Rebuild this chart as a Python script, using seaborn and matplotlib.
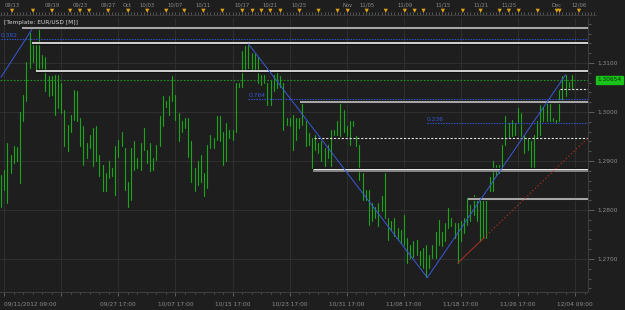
import numpy as np
import pandas as pd
import matplotlib
matplotlib.use("Agg")
import matplotlib.pyplot as plt
from matplotlib.ticker import FixedLocator, MultipleLocator
from matplotlib.transforms import blended_transform_factory
import seaborn as sns

# ---------------- data (EUR/USD, 8h bars) ----------------
highs = [
    1.2872, 1.2882, 1.2937, 1.2913, 1.2930, 1.2928, 1.3001, 1.3035, 1.3103, 1.3161,
    1.3141, 1.3137, 1.3171, 1.3117, 1.3113, 1.3073, 1.3073, 1.3076, 1.3076, 1.3059,
    1.3005, 1.2974, 1.2994, 1.3045, 1.3042, 1.2988, 1.2971, 1.2937, 1.2954, 1.2967,
    1.2971, 1.2913, 1.2892, 1.2875, 1.2899, 1.2886, 1.2930, 1.2943, 1.2960, 1.2926,
    1.2858, 1.2926, 1.2940, 1.2906, 1.2937, 1.2967, 1.2923, 1.2937, 1.2906, 1.2933,
    1.2991, 1.3032, 1.3022, 1.3032, 1.3073, 1.3035, 1.2998, 1.2981, 1.2988, 1.2988,
    1.2940, 1.2886, 1.2899, 1.2913, 1.2875, 1.2933, 1.2954, 1.2947, 1.2991,
    1.2991, 1.2960, 1.2977, 1.2964, 1.2964, 1.3059, 1.3059, 1.3124, 1.3134,
    1.3137, 1.3120, 1.3120, 1.3113, 1.3076, 1.3076, 1.3059, 1.3066, 1.3076, 1.3083,
    1.3073, 1.3059, 1.2988, 1.2988, 1.2994, 1.2988, 1.2988, 1.3018, 1.2981, 1.2957,
    1.2947, 1.2954, 1.2937, 1.2940, 1.2926, 1.2933, 1.2964, 1.2964, 1.2981,
    1.3022, 1.3005, 1.2971, 1.2981, 1.2981, 1.2950, 1.2933, 1.2875,
    1.2841, 1.2841, 1.2814, 1.2807, 1.2814, 1.2828, 1.2875, 1.2784, 1.2777,
    1.2784, 1.2763, 1.2760, 1.2790, 1.2743, 1.2729, 1.2736, 1.2739, 1.2716,
    1.2722, 1.2729, 1.2709, 1.2729, 1.2756, 1.2780, 1.2756, 1.2773, 1.2804,
    1.2784, 1.2773, 1.2773, 1.2777, 1.2784, 1.2824, 1.2811, 1.2831, 1.2824,
    1.2821, 1.2824, 1.2821, 1.2868, 1.2899, 1.2892, 1.2892, 1.2933,
    1.2991, 1.2977, 1.2984, 1.2977, 1.3008, 1.2998, 1.2954, 1.2947, 1.2940,
    1.2954, 1.2981, 1.3015, 1.3011, 1.3025, 1.3022, 1.2988, 1.2984,
    1.3045, 1.3073, 1.3076, 1.3062, 1.3076,
]
lows = [
    1.2807, 1.2841, 1.2814, 1.2875, 1.2896, 1.2899, 1.2855, 1.2981, 1.3022, 1.3090,
    1.3103, 1.3083, 1.3090, 1.3090, 1.3042, 1.3032, 1.3035, 1.2994, 1.3008, 1.2998,
    1.2930, 1.2920, 1.2960, 1.2984, 1.2981, 1.2930, 1.2892, 1.2906, 1.2926, 1.2889,
    1.2899, 1.2869, 1.2838, 1.2838, 1.2865, 1.2869, 1.2831, 1.2909, 1.2930, 1.2841,
    1.2807, 1.2821, 1.2882, 1.2886, 1.2882, 1.2923, 1.2896, 1.2879, 1.2882, 1.2903,
    1.2930, 1.2971, 1.3011, 1.2994, 1.3022, 1.2984, 1.2940, 1.2960, 1.2967, 1.2909,
    1.2858, 1.2838, 1.2852, 1.2858, 1.2828, 1.2845, 1.2926, 1.2926, 1.2943,
    1.2940, 1.2892, 1.2899, 1.2947, 1.2943, 1.2960, 1.3052, 1.3052, 1.3086,
    1.3090, 1.3086, 1.3086, 1.3059, 1.3056, 1.3059, 1.3015, 1.3015, 1.3042, 1.3049,
    1.3052, 1.2964, 1.2974, 1.2971, 1.2923, 1.2943, 1.2967, 1.2974, 1.2930, 1.2933,
    1.2886, 1.2923, 1.2916, 1.2899, 1.2889, 1.2906, 1.2889, 1.2954, 1.2954,
    1.2950, 1.2960, 1.2950, 1.2933, 1.2971, 1.2930, 1.2862, 1.2821,
    1.2821, 1.2770, 1.2777, 1.2784, 1.2767, 1.2797, 1.2784, 1.2739, 1.2760,
    1.2746, 1.2739, 1.2733, 1.2729, 1.2692, 1.2702, 1.2705, 1.2709, 1.2688,
    1.2682, 1.2664, 1.2682, 1.2702, 1.2702, 1.2729, 1.2726, 1.2736, 1.2763,
    1.2767, 1.2743, 1.2692, 1.2736, 1.2753, 1.2770, 1.2777, 1.2790, 1.2777,
    1.2736, 1.2742, 1.2742, 1.2838, 1.2838, 1.2872, 1.2875, 1.2882,
    1.2933, 1.2947, 1.2950, 1.2954, 1.2977, 1.2950, 1.2916, 1.2923, 1.2886,
    1.2882, 1.2947, 1.2954, 1.2981, 1.2981, 1.2981, 1.2981, 1.2977,
    1.2981, 1.3025, 1.3032, 1.3052, 1.3049,
]
last_price = 1.30654

price_ticks = [1.27, 1.28, 1.29, 1.30, 1.31]
price_labels = ["1.2700", "1.2800", "1.2900", "1.3000", "1.3100"]

grid_bars = [1, 19, 37, 55, 73, 91, 109, 127, 145, 163, 181]
grid_labels = ["09/11/2012 09:00", "", "09/27 17:00", "10/07 17:00", "10/15 17:00",
               "10/23 17:00", "10/31 17:00", "11/08 17:00", "11/18 17:00",
               "11/26 17:00", "12/04 09:00"]

top_labels = ["09/13", "09/19", "09/23", "09/27", "Oct", "10/03", "10/07", "10/11",
              "10/17", "10/21", "10/25", "Nov", "11/05", "11/09", "11/15", "11/21",
              "11/25", "Dec", "12/06"]
top_label_bars = [3.5, 16.1, 24.9, 33.8, 39.8, 46.1, 54.9, 63.8, 76.1, 84.9, 93.8,
                  109.3, 115.3, 127.3, 139.3, 151.2, 160.1, 175.2, 182.2]
day_marker_bars = [3.5, 10.1, 16.1, 21.8, 24.9, 27.8, 33.8, 40.1, 46.1, 52.1, 57.8,
                   63.8, 69.8, 76.1, 79.3, 82.1, 84.9, 88.1, 94.1, 100.1, 106.1,
                   109.3, 115.3, 121.3, 127.3, 130.4, 133.2, 139.3, 145.6, 151.2,
                   157.2, 160.1, 163.2, 169.2, 175.2, 176.1, 182.2]

level_prices = [1.31704, 1.31398, 1.30833, 1.30210, 1.29463, 1.28816, 1.28220, 1.30465]
level_starts = [6.6, 9.8, 11.1, 94.1, 98.8, 98.2, 147.1, 176.2]
level_kinds = ["grey", "white", "white", "grey", "dash", "double", "grey", "dash"]

fib_labels = ["0.382", "0.764", "0.236"]
fib_prices = [1.31486, 1.30259, 1.29782]
fib_starts = [0, 78, 134.2]

zz1_bars, zz1_prices = [0, 9.7], [1.3071, 1.3168]
zz2_bars, zz2_prices = [78, 134.4, 178], [1.3139, 1.2662, 1.3076]
trend_bars, trend_prices = [144, 152.2], [1.2692, 1.2743]

# ---------------- style ----------------
BG = "#1e1e1e"
GRID = "#303030"
TXT = "#8c8c8c"
GREEN = "#1aa51a"
BLUE = "#3456d6"
sns.set_theme(style="dark", rc={"axes.facecolor": BG, "figure.facecolor": BG})
plt.rcParams["font.family"] = ["DejaVu Sans"]

W, H = 625, 310
fig = plt.figure(figsize=(W / 100, H / 100), dpi=100)
fig.patch.set_facecolor(BG)


def frame(left, top, width, height):
    return [left / W, 1 - (top + height) / H, width / W, height / H]


ax = fig.add_axes(frame(0, 18, 588, 274))
axt = fig.add_axes(frame(0, 0, 596, 15))

n = len(highs)
step = 571 / (n - 1)          # pixels per bar
xmin = -1 / step
ax.set_xlim(xmin, xmin + 588 / step)
axt.set_xlim(xmin, xmin + 596 / step)
ax.set_ylim(1.26327, 1.31918)
ax.set_facecolor(BG)
axt.set_facecolor(BG)

# grid
for gb in grid_bars:
    ax.axvline(gb, color=GRID, lw=0.7, zorder=0)
for pt in price_ticks:
    ax.axhline(pt, color=GRID, lw=0.7, zorder=0)

# OHLC bars (high-low ranges)
bar_df = pd.DataFrame({
    "bar": np.repeat(np.arange(n), 2),
    "price": np.column_stack([lows, highs]).ravel(),
})
sns.lineplot(data=bar_df, x="bar", y="price", units="bar", estimator=None,
             sort=False, color=GREEN, lw=0.8, ax=ax, legend=False, zorder=3)

xr = ax.get_xlim()[1]

# horizontal levels
for p, s0, kind in zip(level_prices, level_starts, level_kinds):
    if kind == "grey":
        ax.hlines(p, s0, xr, color="#111111", lw=2.8, zorder=4)
        ax.hlines(p, s0, xr, color="#a6a6a6", lw=1.6, zorder=5)
    elif kind == "white":
        ax.hlines(p, s0, xr, color="#111111", lw=2.4, zorder=4)
        ax.hlines(p, s0, xr, color="#f2f2f2", lw=1.2, zorder=5)
    elif kind == "double":
        ax.hlines(p, s0, xr, color="#111111", lw=3.2, zorder=4)
        ax.hlines(p + 0.00025, s0, xr, color="#e8e8e8", lw=0.8, zorder=5)
        ax.hlines(p - 0.00015, s0, xr, color="#9a9a9a", lw=1.2, zorder=5)
    else:
        ax.hlines(p, s0, xr, color="#e0e0e0", lw=0.8, linestyles=(0, (2, 1.5)), zorder=5)

# current price dotted line
ax.axhline(last_price, color="#1e9a1e", lw=0.8, ls=(0, (1.5, 1.5)), zorder=4)

# fibonacci levels
for lab, p, s0 in zip(fib_labels, fib_prices, fib_starts):
    ax.hlines(p, s0, xr, color=BLUE, lw=0.8, linestyles=(0, (1.2, 1.2)), zorder=5)
    ax.text(s0, p + 0.0002, lab, color=BLUE, fontsize=4.3, ha="left", va="bottom", zorder=6)

# zigzag
sns.lineplot(x=zz1_bars, y=zz1_prices, color="#3a5ad8", lw=0.7, ax=ax, zorder=6, sort=False)
sns.lineplot(x=zz2_bars, y=zz2_prices, color="#3a5ad8", lw=0.7, ax=ax, zorder=6, sort=False)

# trend line (solid) + dotted extension
sns.lineplot(x=trend_bars, y=trend_prices, color="#b03020", lw=0.7, ax=ax, zorder=6, sort=False)
slope = (trend_prices[1] - trend_prices[0]) / (trend_bars[1] - trend_bars[0])
ax.plot([trend_bars[1], xr], [trend_prices[1], trend_prices[1] + slope * (xr - trend_bars[1])],
        color="#b03020", lw=0.8, ls=(0, (1.2, 2.0)), zorder=6)

# template label
ax.text(4 / 588, 1 - 2 / 274, "[Template: EUR/USD [M]]", transform=ax.transAxes,
        fontsize=4.2, color="#d0d0d0", ha="left", va="top")

# axes: spines and ticks
for sp in ["top", "left"]:
    ax.spines[sp].set_visible(False)
for sp in ["right", "bottom"]:
    ax.spines[sp].set_visible(True)
    ax.spines[sp].set_color("#3c3c3c")
    ax.spines[sp].set_linewidth(0.8)
ax.yaxis.tick_right()
ax.set_yticks(price_ticks)
ax.set_yticklabels(price_labels)
ax.yaxis.set_minor_locator(MultipleLocator(0.002))
ax.tick_params(axis="y", which="major", right=True, left=False, length=4, width=0.6,
               color="#6a6a6a", labelsize=4.2, labelcolor=TXT, pad=3)
ax.tick_params(axis="y", which="minor", right=True, left=False, length=2, width=0.5,
               color="#6a6a6a")
ax.set_xticks(grid_bars)
ax.set_xticklabels(grid_labels)
ax.xaxis.set_minor_locator(FixedLocator(np.arange(grid_bars[0], n + 4, 3)))
ax.tick_params(axis="x", which="major", bottom=True, length=3, width=0.6,
               color="#6a6a6a", labelsize=4.2, labelcolor=TXT, pad=4)
ax.tick_params(axis="x", which="minor", bottom=True, length=1.5, width=0.5, color="#6a6a6a")
ax.get_xticklabels()[0].set_ha("left")
ax.set_xlabel("")
ax.set_ylabel("")
ax.grid(False)

# current price tag
tr = blended_transform_factory(ax.transAxes, ax.transData)
ax.text(1 + 9 / 588, last_price, "1.30654", transform=tr, fontsize=4.2, color="#0a2a0a",
        ha="left", va="center", clip_on=False, zorder=10,
        bbox=dict(boxstyle="square,pad=0.25", fc="#19c219", ec="#19c219"))

# top date strip
axt.set_ylim(0, 1)
for sp in ["top", "left", "right"]:
    axt.spines[sp].set_visible(False)
axt.spines["bottom"].set_color("#3c3c3c")
axt.spines["bottom"].set_linewidth(0.6)
axt.set_yticks([])
axt.set_xticks(np.arange(0, n + 7, 1.0), minor=True)
axt.set_xticks([])
axt.tick_params(axis="x", which="minor", direction="in", length=2, width=0.5,
                color="#6a6a6a", bottom=True)
for lab, b in zip(top_labels, top_label_bars):
    axt.text(b, 0.66, lab, fontsize=3.8, color=TXT, ha="center", va="center")
sns.scatterplot(x=day_marker_bars, y=[0.28] * len(day_marker_bars), marker="v",
                s=9, color="#e0a412", edgecolor="none", ax=axt, legend=False, zorder=5)
axt.set_xlabel("")
axt.set_ylabel("")
axt.grid(False)

fig.savefig("out.png", dpi=100, facecolor=BG)
